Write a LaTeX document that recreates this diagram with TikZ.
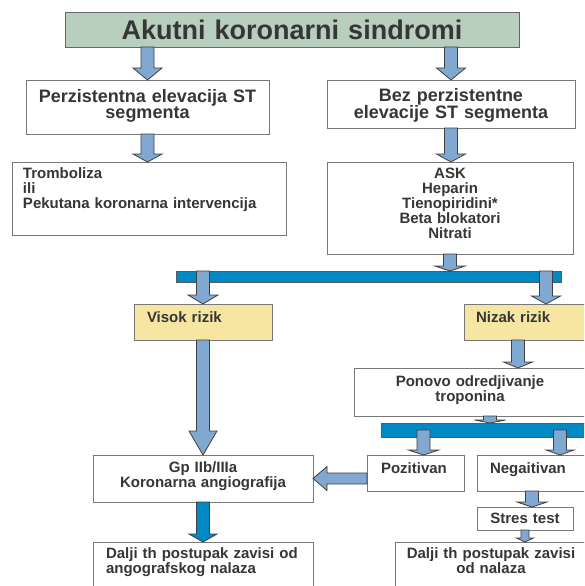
\documentclass[tikz,border=0pt]{standalone}
\usepackage{fontspec}
\setmainfont{Liberation Sans}
\usetikzlibrary{calc}

\definecolor{titlegreen}{RGB}{185,207,190}
\definecolor{arrowblue}{RGB}{128,168,208}
\definecolor{barblue}{RGB}{0,137,196}
\definecolor{riskyellow}{RGB}{246,230,161}
\definecolor{boxline}{RGB}{120,120,120}
\definecolor{txtgray}{RGB}{54,54,54}

\newcommand{\titlefont}{\fontsize{27}{27}\selectfont\bfseries}
\newcommand{\headfont}{\fontsize{18}{16.5}\selectfont\bfseries}
\newcommand{\bodyfont}{\fontsize{15}{15}\selectfont\bfseries}

% block arrow pointing down: [fill] {from} {to} {half shaft} {half head} {head length}
\newcommand{\fatdown}[6][arrowblue]{%
  \draw[arrowline, fill=#1] let \p1=#2, \p2=#3 in
    ({\x1-#4},\y1) -- ({\x1-#4},{\y2+#6}) -- ({\x1-#5},{\y2+#6}) -- (\x1,\y2)
    -- ({\x1+#5},{\y2+#6}) -- ({\x1+#4},{\y2+#6}) -- ({\x1+#4},\y1) -- cycle;
}
% block arrow pointing left
\newcommand{\fatleft}[6][arrowblue]{%
  \draw[arrowline, fill=#1] let \p1=#2, \p2=#3 in
    (\x1,{\y1+#4}) -- ({\x2+#6},{\y1+#4}) -- ({\x2+#6},{\y1+#5}) -- (\x2,\y1)
    -- ({\x2+#6},{\y1-#5}) -- ({\x2+#6},{\y1-#4}) -- (\x1,{\y1-#4}) -- cycle;
}

\begin{document}
\begin{tikzpicture}[
    x=1pt, y=-1pt,
    box/.style={draw=boxline, line width=0.9pt, fill=white, anchor=north west, outer sep=0pt,
      inner ysep=0pt, inner xsep=4pt, text=txtgray, font=\bodyfont, align=center},
    dims/.style n args={3}{text width=#1pt, text height=#2pt, text depth=#3pt},
    titlebox/.style={box, fill=titlegreen, draw=black!60, font=\titlefont},
    headbox/.style={box, font=\headfont},
    listbox/.style={box, align=left},
    risk/.style={listbox, fill=riskyellow},
    bar/.style={draw=black!65, line width=0.8pt, fill=barblue, anchor=north west, outer sep=0pt, inner sep=0pt},
    arrowline/.style={draw=black!75, line width=0.8pt}
  ]

  \fill[white] (0,0) rectangle (584,586);
  \useasboundingbox (0,0) rectangle (584,586);
  \clip (0,0) rectangle (584,586);

  % top of the chart
  \node[titlebox, dims={446}{28}{7}] (title) at (65,12) {Akutni koronarni sindromi};
  \node[headbox, dims={235}{22}{32}] (perz) at (26,80) {Perzistentna elevacija ST\\segmenta};
  \node[headbox, dims={240}{21}{27}] (bez) at (327,80) {Bez perzistentne\\elevacije ST segmenta};

  % therapy
  \node[listbox, inner xsep=11pt, dims={252}{16}{57}] (trom) at (12,162) {Tromboliza\\ili\\Pekutana koronarna intervencija};
  \node[box, dims={238}{16}{76}] (ask) at (327,162) {ASK\\Heparin\\Tienopiridini*\\Beta blokatori\\Nitrati};
  \node[bar, minimum width=385pt, minimum height=11pt] (bar) at (176,271) {};

  % risk
  \node[risk, inner xsep=13pt, dims={112}{18}{18}] (visok) at (134,304) {Visok rizik};
  \node[risk, inner xsep=12pt, dims={140}{18}{18}] (nizak) at (464,304) {Nizak rizik};
  \node[box, dims={224}{18}{30}] (ponovo) at (354,368) {Ponovo odredjivanje\\troponina};
  \node[bar, minimum width=230pt, minimum height=14pt] (bar2) at (381,423) {};

  % troponin result
  \node[listbox, inner xsep=14pt, dims={69}{18}{18}] (poz) at (367,455) {Pozitivan};
  \node[listbox, inner xsep=13pt, dims={140}{18}{18}] (neg) at (477,455) {Negaitivan};
  \node[box, dims={212}{17}{30}] (gp) at (93,455) {Gp IIb/IIIa\\Koronarna angiografija};
  \node[box, dims={88}{16}{7}] (stres) at (477,507) {Stres test};

  % further steps
  \node[listbox, inner xsep=13pt, dims={194}{16}{50}] (dalji1) at (93,542) {Dalji th postupak zavisi od\\angografskog nalaza};
  \node[box, dims={184}{16}{50}] (dalji2) at (395,542) {Dalji th postupak zavisi\\od nalaza};

  % block arrows
  \fatdown{(title.south -| perz.north)}{(perz.north)}{6.5pt}{14.5pt}{12pt}
  \fatdown{(title.south -| bez.north)}{(bez.north)}{6.5pt}{14.5pt}{12pt}
  \fatdown{(perz.south)}{(trom.north)}{6.5pt}{14.5pt}{8pt}
  \fatdown{(bez.south)}{(ask.north)}{6.5pt}{14.5pt}{8pt}
  \fatdown{(ask.south)}{(bar.north)}{6.5pt}{15pt}{5pt}
  \fatdown{(bar.north -| visok.north)}{(visok.north)}{6.5pt}{15pt}{9pt}
  \fatdown{(bar.north -| nizak.north)}{(nizak.north)}{6.5pt}{14.5pt}{8pt}
  \fatdown{(visok.south)}{(gp.north)}{6.5pt}{14pt}{24pt}
  \fatdown[barblue]{(gp.south)}{(dalji1.north)}{6.5pt}{14pt}{8pt}
  \fatdown{($(nizak.south west)+(54,0)$)}{(ponovo.north)}{6.5pt}{14.5pt}{6pt}
  \fatdown{($(ponovo.south west)+(136,0)$)}{(bar2.north)}{6.5pt}{15.5pt}{3pt}
  \fatdown{($(bar2.center -| poz.north)+(8,0)$)}{(poz.north)}{6.5pt}{15pt}{5pt}
  \fatdown{(bar2.center -| neg.north)}{(neg.north)}{6.5pt}{14pt}{5pt}
  \fatdown{($(neg.south west)+(55,0)$)}{(stres.north)}{6.5pt}{15pt}{5pt}
  \fatdown{(stres.south)}{(dalji2.north)}{4pt}{8.5pt}{4pt}
  \fatleft{(poz.west |- gp.east)}{(gp.east)}{5.5pt}{12pt}{14pt}

\end{tikzpicture}
\end{document}
